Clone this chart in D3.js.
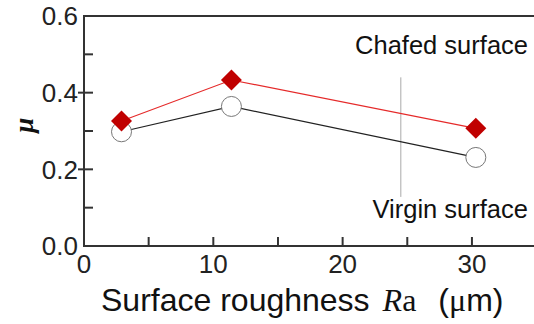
<!DOCTYPE html>
<html>
<head>
<meta charset="utf-8">
<script src="https://cdn.jsdelivr.net/npm/d3@7/dist/d3.min.js"></script>
<style>
  html, body { margin: 0; padding: 0; background: #fff; }
  svg { display: block; font-family: "Liberation Sans", Arial, sans-serif; }
  .tick-label { font-size: 26px; fill: #222; }
  .note { font-size: 25.5px; fill: #111; }
</style>
</head>
<body>
<svg id="chart" width="534" height="324"></svg>
<script>
/* ---------- data ---------- */
const roughness = [2.9, 11.4, 30.3];          // Ra (um)
const muChafed  = [0.326, 0.433, 0.307];      // red diamonds
const muVirgin  = [0.298, 0.364, 0.231];      // open circles

const xMajorTicks = [0, 10, 20, 30];
const xMinorTicks = [5, 15, 25];
const yMajorTicks = [0.0, 0.2, 0.4, 0.6];
const yMinorTicks = [0.1, 0.3, 0.5];

const noteLabels = ["Chafed surface", "Virgin surface"];
const noteY      = [0.5, 0.073];             // label baselines (data units)
const leaderX    = 24.5;                     // leader line position
const leaderY    = [0.44, 0.128];

/* ---------- frame ---------- */
const svg = d3.select("#chart");
const x = d3.scaleLinear().domain([0, 35]).range([84, 536.6]);
const y = d3.scaleLinear().domain([0, 0.6]).range([246, 16]);

const axisColor = "#333";
const frame = svg.append("g");

// left, bottom and top lines (figure is cropped on the right)
frame.append("line").attr("x1", x(0)).attr("x2", x(0)).attr("y1", y(0.6) - 1).attr("y2", y(0) + 1)
  .attr("stroke", axisColor).attr("stroke-width", 2);
frame.append("line").attr("x1", x(0)).attr("x2", 534).attr("y1", y(0)).attr("y2", y(0))
  .attr("stroke", axisColor).attr("stroke-width", 2);
frame.append("line").attr("x1", x(0)).attr("x2", 534).attr("y1", y(0.6)).attr("y2", y(0.6))
  .attr("stroke", axisColor).attr("stroke-width", 2);

// y ticks: majors cross the axis, minors point inward
frame.selectAll(".ytm").data(yMajorTicks.filter(d => d > 0 && d < 0.6)).join("line")
  .attr("x1", x(0) - 6).attr("x2", x(0) + 9).attr("y1", d => y(d)).attr("y2", d => y(d))
  .attr("stroke", axisColor).attr("stroke-width", 2);
frame.selectAll(".ytn").data(yMinorTicks).join("line")
  .attr("x1", x(0)).attr("x2", x(0) + 9).attr("y1", d => y(d)).attr("y2", d => y(d))
  .attr("stroke", axisColor).attr("stroke-width", 2);

// x ticks inward
frame.selectAll(".xt").data(xMajorTicks.filter(d => d > 0).concat(xMinorTicks)).join("line")
  .attr("x1", d => x(d)).attr("x2", d => x(d)).attr("y1", y(0)).attr("y2", y(0) - 9)
  .attr("stroke", axisColor).attr("stroke-width", 2);

// tick labels
svg.selectAll(".yl").data(yMajorTicks).join("text")
  .attr("class", "tick-label")
  .attr("x", x(0) - 6).attr("y", d => y(d))
  .attr("dy", "0.36em").attr("text-anchor", "end")
  .text(d => d.toFixed(1));

svg.selectAll(".xl").data(xMajorTicks).join("text")
  .attr("class", "tick-label")
  .attr("x", d => x(d)).attr("y", y(0) + 27)
  .attr("text-anchor", "middle")
  .text(d => d);

// axis titles
const serif = "'Liberation Serif', 'Times New Roman', serif";
const xt = svg.append("text")
  .attr("x", 101).attr("y", 311)
  .style("font-size", "32px").attr("fill", "#111");
xt.append("tspan").text("Surface roughness");
xt.append("tspan").attr("dx", 13).style("font-family", serif).style("font-style", "italic").text("R");
xt.append("tspan").style("font-family", serif).style("font-style", "normal").text("a");
xt.append("tspan").attr("dx", 22).text("(");
xt.append("tspan").style("font-family", serif).text("\u03bc");
xt.append("tspan").text("m)");

svg.append("text")
  .attr("transform", `translate(33, ${y(0.315)}) rotate(-90)`)
  .attr("text-anchor", "middle")
  .style("font-family", serif)
  .style("font-style", "italic").style("font-weight", "bold")
  .style("font-size", "27px").attr("fill", "#111")
  .text("\u03bc");

/* ---------- annotation ---------- */
svg.append("line")
  .attr("x1", x(leaderX)).attr("x2", x(leaderX))
  .attr("y1", y(leaderY[0])).attr("y2", y(leaderY[1]))
  .attr("stroke", "#aaa").attr("stroke-width", 1);

svg.selectAll(".note").data(noteLabels).join("text")
  .attr("class", "note")
  .attr("x", 528).attr("y", (d, i) => y(noteY[i]))
  .attr("text-anchor", "end")
  .text(d => d);

/* ---------- series ---------- */
const line = d3.line().x(d => x(d[0])).y(d => y(d[1]));
const virgin = roughness.map((r, i) => [r, muVirgin[i]]);
const chafed = roughness.map((r, i) => [r, muChafed[i]]);

svg.append("path").datum(virgin).attr("d", line)
  .attr("fill", "none").attr("stroke", "#222").attr("stroke-width", 1.2);
svg.selectAll(".circ").data(virgin).join("circle")
  .attr("cx", d => x(d[0])).attr("cy", d => y(d[1])).attr("r", 10)
  .attr("fill", "#fff").attr("stroke", "#777").attr("stroke-width", 1);

svg.append("path").datum(chafed).attr("d", line)
  .attr("fill", "none").attr("stroke", "#e52a2a").attr("stroke-width", 1.2);
const diamond = d3.symbol().type(d3.symbolSquare).size(220);
svg.selectAll(".dia").data(chafed).join("path")
  .attr("d", diamond)
  .attr("transform", d => `translate(${x(d[0])},${y(d[1])}) rotate(45)`)
  .attr("fill", "#c00000");
</script>
</body>
</html>
